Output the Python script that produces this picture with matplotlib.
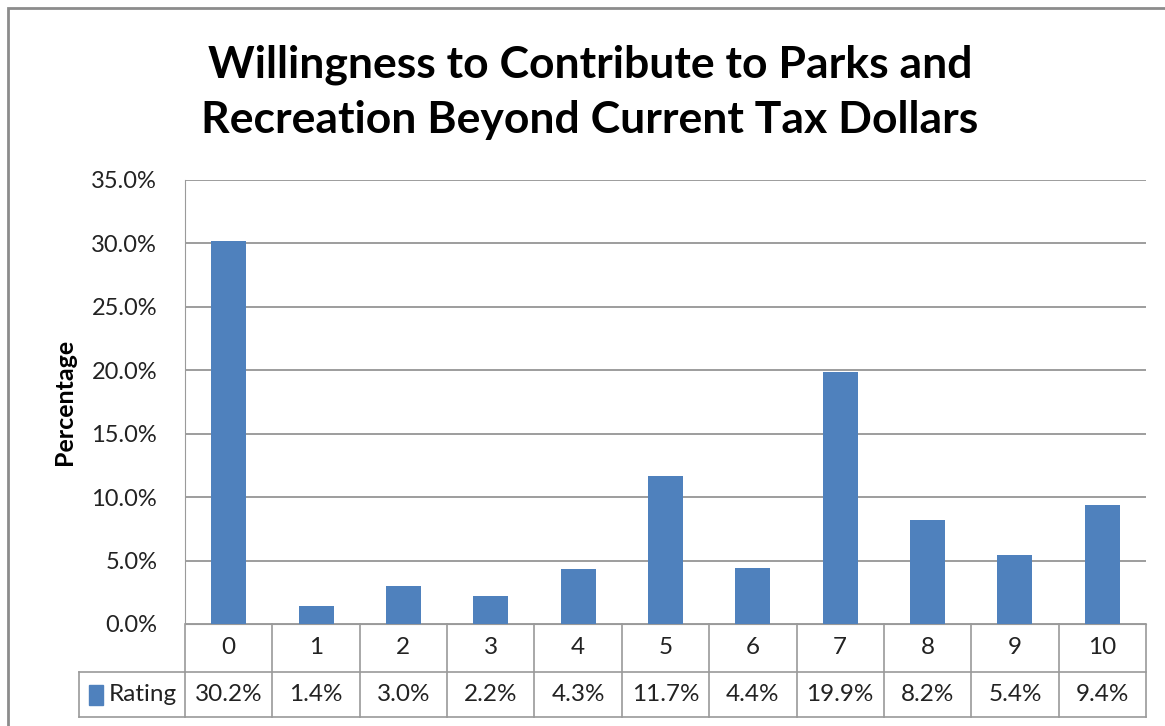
import matplotlib.pyplot as plt
import matplotlib.transforms as mtransforms
from matplotlib.patches import Rectangle
from matplotlib.ticker import FuncFormatter

# Data
ratings = ['0', '1', '2', '3', '4', '5', '6', '7', '8', '9', '10']
shares = [30.2, 1.4, 3.0, 2.2, 4.3, 11.7, 4.4, 19.9, 8.2, 5.4, 9.4]
series_name = 'Rating'
title = 'Willingness to Contribute to Parks and\nRecreation Beyond Current Tax Dollars'

W, H = 1165, 726
bar_color = '#4F81BD'
line_color = '#9A9A9A'
text_color = '#222222'
plt.rcParams['font.family'] = ['Lato', 'DejaVu Sans']

fig = plt.figure(figsize=(W / 100, H / 100), dpi=100)

# outer chart frame (runs past the right and bottom edge in the reference)
fig.patches.append(Rectangle((8 / W, -0.1), 1.2, 1.1 - 8 / H, transform=fig.transFigure,
                             fill=False, edgecolor='#8C8C8C', linewidth=2))

left, right, top, bottom = 185, 1146, 180, 624
ax = fig.add_axes([left / W, 1 - bottom / H, (right - left) / W, (bottom - top) / H])

x = range(len(ratings))
ax.bar(x, [v / 100 for v in shares], width=0.4, color=bar_color, zorder=3)

ax.set_xlim(-0.5, len(ratings) - 0.5)
ax.set_ylim(0, 0.35)
ax.set_yticks([i * 0.05 for i in range(8)])
ax.yaxis.set_major_formatter(FuncFormatter(lambda v, p: f'{v * 100:.1f}%'))
ax.tick_params(axis='y', length=0, pad=20, labelsize=17, colors=text_color)
ax.set_xticks([])
ax.grid(axis='y', color='#8C8C8C', linewidth=1.2, zorder=0)
for s in ['top', 'right']:
    ax.spines[s].set_visible(False)
ax.spines['left'].set_color(line_color)
ax.spines['bottom'].set_color(line_color)

ax.set_ylabel('Percentage', fontsize=18, fontweight='bold', labelpad=11)

# data table below the plot
ph = bottom - top
y1 = -(672 - bottom) / ph
y2 = -(717 - bottom) / ph
xl = -(left - 79) / (right - left)
blend = mtransforms.blended_transform_factory(ax.transData, ax.transAxes)
kw = dict(color=line_color, linewidth=1.2, clip_on=False)
ax.plot([-0.5, len(ratings) - 0.5], [y1, y1], transform=blend, **kw)
ax.plot([xl, 1], [y2, y2], transform=ax.transAxes, **kw)
ax.plot([xl, 0], [y1, y1], transform=ax.transAxes, **kw)
ax.plot([xl, xl], [y1, y2], transform=ax.transAxes, **kw)
for i in range(len(ratings) + 1):
    ax.plot([i - 0.5, i - 0.5], [0, y2], transform=blend, **kw)
for i, (r, v) in enumerate(zip(ratings, shares)):
    ax.text(i, y1 / 2, r, transform=blend, ha='center', va='center', fontsize=17.5, color=text_color)
    ax.text(i, (y1 + y2) / 2, f'{v:.1f}%', transform=blend, ha='center', va='center',
            fontsize=17.5, color=text_color)
ax.text(xl + 0.031, (y1 + y2) / 2, series_name, transform=ax.transAxes,
        ha='left', va='center', fontsize=17.5, color=text_color)
ax.add_patch(Rectangle((xl + 0.0105, (y1 + y2) / 2 - 10 / ph), 14 / (right - left), 20 / ph,
                       transform=ax.transAxes, color=bar_color, clip_on=False))

fig.text(590 / W, 1 - 92 / H, title, ha='center', va='center', fontsize=32,
         fontweight='bold', linespacing=1.45)

fig.savefig('out.png', dpi=100)
